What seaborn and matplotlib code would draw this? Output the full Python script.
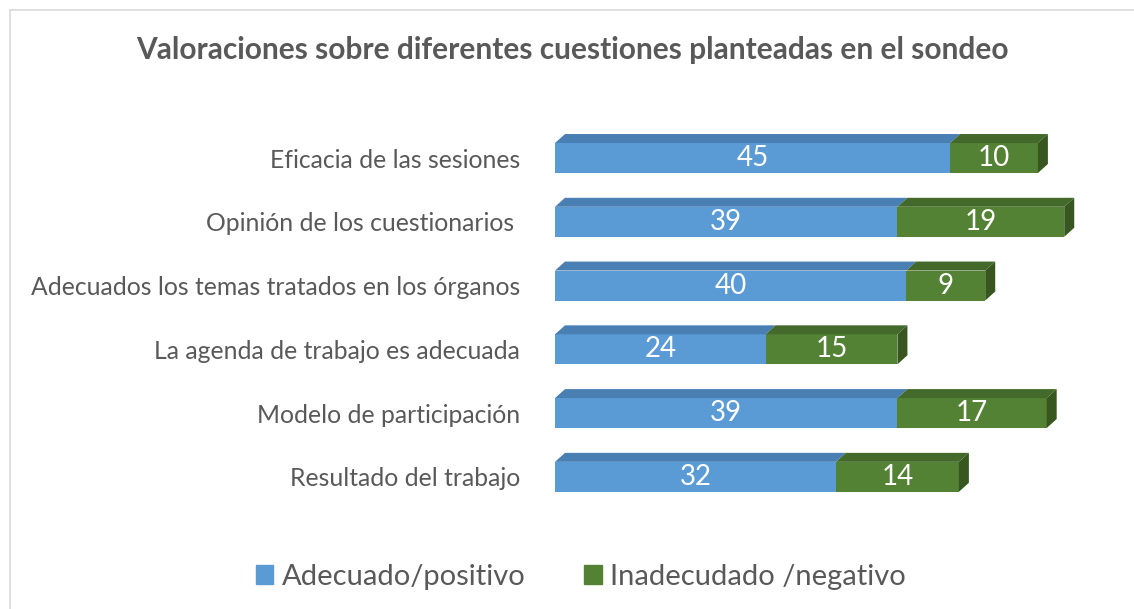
import numpy as np
import pandas as pd
import matplotlib
matplotlib.use('Agg')
import matplotlib.pyplot as plt
import seaborn as sns
from matplotlib.patches import Polygon, Patch, Rectangle

categories = ['Eficacia de las sesiones', 'Opinión de los cuestionarios ',
              'Adecuados los temas tratados en los órganos',
              'La agenda de trabajo es adecuada', 'Modelo de participación',
              'Resultado del trabajo']
positivo = [45, 39, 40, 24, 39, 32]
negativo = [10, 19, 9, 15, 17, 14]
series_names = ['Adecuado/positivo', 'Inadecudado /negativo']
title = 'Valoraciones sobre diferentes cuestiones planteadas en el sondeo'

blue, blue_top = '#5b9bd5', '#4a7fb3'
green, green_top, green_side = '#548235', '#436a2b', '#38561f'
text_gray = '#595959'

df = pd.DataFrame({'cat': categories, 'pos': positivo, 'neg': negativo})
df['total'] = df['pos'] + df['neg']

sns.set_style('white')
plt.rcParams['font.family'] = ['Lato', 'DejaVu Sans']

fig = plt.figure(figsize=(11.34, 6.09), dpi=100)
W, H = 1134, 609
ax = fig.add_axes([555 / W, (H - 510) / H, (1110 - 555) / W, 390 / H])

bar_h = 0.47
sns.barplot(data=df, x='total', y='cat', color=green, orient='h', width=bar_h,
            saturation=1, linewidth=0, ax=ax)
sns.barplot(data=df, x='pos', y='cat', color=blue, orient='h', width=bar_h,
            saturation=1, linewidth=0, ax=ax)

ax.set_xlim(0, 555 / 8.78)
ax.set_ylim(5.52, -0.596)

# 3D look: top faces and end face
dx, dy = 10 / 8.78, -9 / 63.8
n = len(df)
green_bars = ax.patches[:n]
blue_bars = ax.patches[n:2 * n]
for gb, bb in zip(green_bars, blue_bars):
    y0 = bb.get_y()
    h = bb.get_height()
    xb = bb.get_width()
    xt = gb.get_width()
    ax.add_patch(Polygon([(0, y0), (xb, y0), (xb + dx, y0 + dy), (dx, y0 + dy)],
                         closed=True, fc=blue_top, ec='none', clip_on=False))
    ax.add_patch(Polygon([(xb, y0), (xt, y0), (xt + dx, y0 + dy), (xb + dx, y0 + dy)],
                         closed=True, fc=green_top, ec='none', clip_on=False))
    ax.add_patch(Polygon([(xt, y0), (xt, y0 + h), (xt + dx, y0 + h + dy), (xt + dx, y0 + dy)],
                         closed=True, fc=green_side, ec='none', clip_on=False))
    yc = y0 + h / 2
    ax.text(xb / 2, yc, str(int(xb)), color='white', ha='center', va='center',
            fontsize=20)
    ax.text((xb + xt) / 2, yc, str(int(xt - xb)), color='white', ha='center',
            va='center', fontsize=20)

ax.set_xlabel('')
ax.set_ylabel('')
ax.set_xticks([])
sns.despine(ax=ax, left=True, bottom=True)
ax.tick_params(axis='y', length=0, pad=25, labelsize=17.8, labelcolor=text_gray)

fig.text(572 / W, 1 - 50 / H, title, ha='center', va='center', fontsize=21.5,
         fontweight='bold', color=text_gray)

handles = [Patch(color=blue), Patch(color=green)]
fig.legend(handles, series_names, loc='center', bbox_to_anchor=(581 / W, 1 - 577 / H),
           ncol=2, frameon=False, fontsize=21, handlelength=0.6, handleheight=0.6,
           handletextpad=0.3, columnspacing=2.0, labelcolor=text_gray)

fig.patches.append(Rectangle((10 / W, -0.05), 1.1, 1 - 10 / H + 0.05,
                             transform=fig.transFigure, fill=False,
                             ec='#d9d9d9', lw=1.2))

fig.savefig('out.png', dpi=100)
